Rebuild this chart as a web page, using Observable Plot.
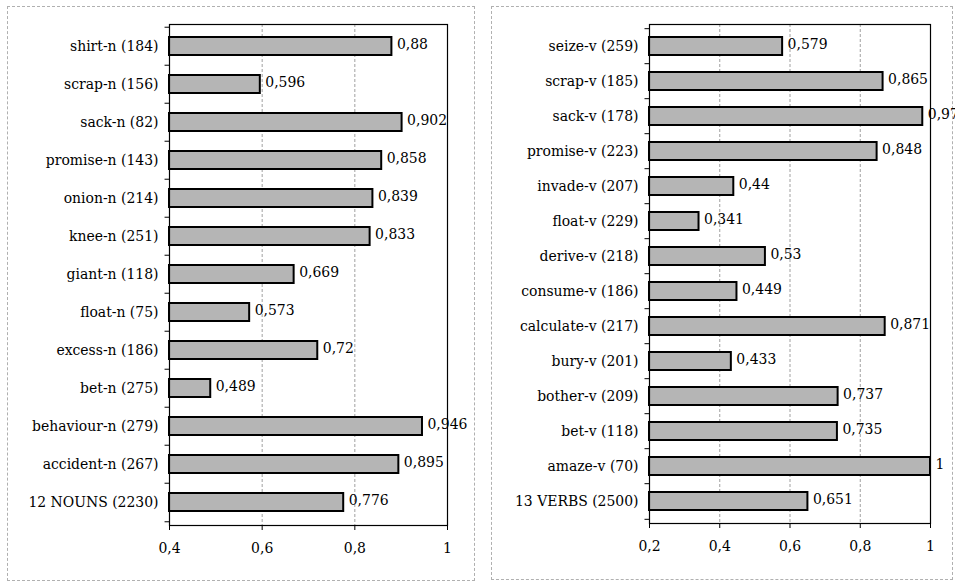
<!DOCTYPE html>
<html><head><meta charset="utf-8">
<script src="https://cdn.jsdelivr.net/npm/d3@7"></script>
<script src="https://cdn.jsdelivr.net/npm/@observablehq/plot@0.6"></script>
<style>
body{margin:0;background:#fff;width:955px;height:583px;position:relative;overflow:hidden;font-family:"DejaVu Serif Condensed","DejaVu Serif",serif;}
.panel{position:absolute;border:1px dashed #b0b0b0;box-sizing:border-box;}
.panel svg{overflow:visible;display:block;}
.panel svg text{font-family:"DejaVu Serif Condensed","DejaVu Serif",serif !important; font-stretch:condensed;}
</style></head><body>
<div id="left" class="panel" style="left:7px;top:6px;width:468px;height:575px"></div>
<div id="right" class="panel" style="left:491px;top:6px;width:462px;height:574px"></div>
<script>
const nounLabels = ["shirt-n (184)", "scrap-n (156)", "sack-n (82)", "promise-n (143)", "onion-n (214)", "knee-n (251)", "giant-n (118)", "float-n (75)", "excess-n (186)", "bet-n (275)", "behaviour-n (279)", "accident-n (267)", "12 NOUNS (2230)"];
const nounValues = [0.88, 0.596, 0.902, 0.858, 0.839, 0.833, 0.669, 0.573, 0.72, 0.489, 0.946, 0.895, 0.776];
const nounTicks = [0.4, 0.6, 0.8, 1];

const verbLabels = ["seize-v (259)", "scrap-v (185)", "sack-v (178)", "promise-v (223)", "invade-v (207)", "float-v (229)", "derive-v (218)", "consume-v (186)", "calculate-v (217)", "bury-v (201)", "bother-v (209)", "bet-v (118)", "amaze-v (70)", "13 VERBS (2500)"];
const verbValues = [0.579, 0.865, 0.978, 0.848, 0.44, 0.341, 0.53, 0.449, 0.871, 0.433, 0.737, 0.735, 1, 0.651];
const verbTicks = [0.2, 0.4, 0.6, 0.8, 1];

const fmt = v => String(v).replace(".", ",");
const FS = 15.5;

function panel(labels, values, ticks, opts) {
  const data = labels.map((l, i) => ({label: l, value: values[i]}));
  const xmin = ticks[0], xmax = ticks[ticks.length - 1];
  const n = labels.length;
  const plotH = opts.height - opts.marginTop - opts.marginBottom;
  const step = plotH / n;
  const tickLen = (xmax - xmin) * 0.016;
  return Plot.plot({
    width: opts.width, height: opts.height,
    marginLeft: opts.marginLeft, marginRight: opts.marginRight,
    marginTop: opts.marginTop, marginBottom: opts.marginBottom,
    style: {fontSize: FS + "px", color: "#000", background: "transparent"},
    x: {domain: [xmin, xmax], label: null},
    y: {domain: labels, paddingInner: opts.pad, paddingOuter: opts.pad / 2, label: null},
    marks: [
      Plot.ruleX(ticks.slice(1, -1), {stroke: "#a0a0a0", strokeWidth: 1, strokeDasharray: "3,2"}),
      Plot.ruleY(labels, {y: d => d, dy: -step / 2, x1: () => xmin, x2: () => xmin - tickLen, stroke: "#000", strokeWidth: 1}),
      Plot.ruleY(labels.slice(-1), {y: d => d, dy: step / 2, x1: () => xmin, x2: () => xmin - tickLen, stroke: "#000", strokeWidth: 1}),
      Plot.barX(data, {y: "label", x1: () => xmin, x2: "value", fill: "#b5b5b5", stroke: "#000", strokeWidth: 2}),
      Plot.text(data, {y: "label", x: "value", text: d => fmt(d.value), textAnchor: "start", dx: 5, dy: -2, fill: "#000", fontSize: FS}),
      Plot.frame({stroke: "#000", strokeWidth: 1.2}),
      Plot.axisX({ticks: ticks, tickFormat: fmt, tickSize: 5, tickPadding: 11, fontSize: FS}),
      Plot.axisY({tickSize: 0, tickPadding: 11, fontSize: FS})
    ]
  });
}

document.getElementById("left").append(panel(nounLabels, nounValues, nounTicks, {
  width: 466, height: 573, marginLeft: 161, marginRight: 27, marginTop: 17, marginBottom: 55, pad: 0.52
}));
document.getElementById("right").append(panel(verbLabels, verbValues, verbTicks, {
  width: 460, height: 572, marginLeft: 157, marginRight: 22, marginTop: 17, marginBottom: 56, pad: 0.5
}));
</script>
</body></html>
